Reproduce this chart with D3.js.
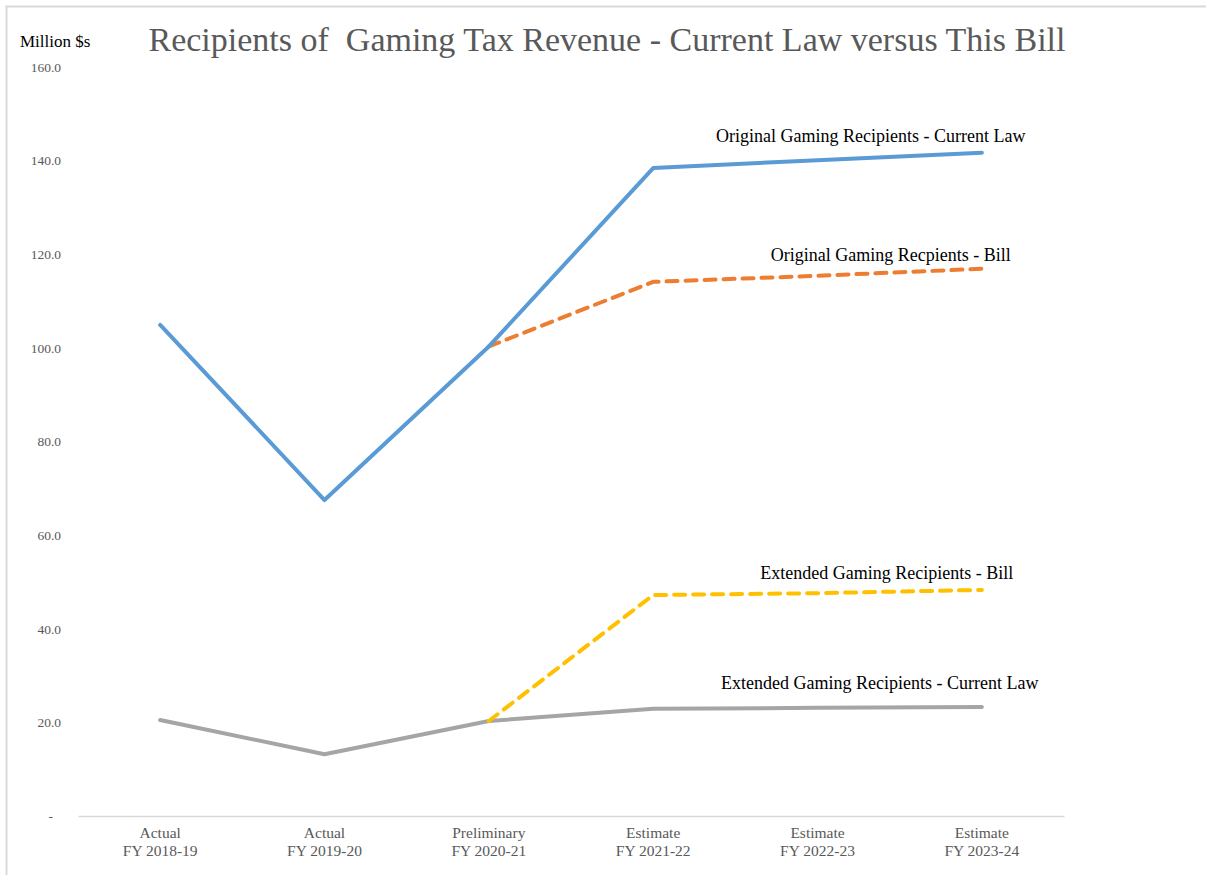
<!DOCTYPE html>
<html>
<head>
<meta charset="utf-8">
<script src="https://cdn.jsdelivr.net/npm/d3@7"></script>
<style>
  body { margin: 0; background: #fff; }
  svg { display: block; font-family: "Liberation Serif", "DejaVu Serif", serif; }
</style>
</head>
<body>
<svg id="chart"></svg>
<script>
// categories (two-line labels)
const catTop = ["Actual", "Actual", "Preliminary", "Estimate", "Estimate", "Estimate"];
const catBottom = ["FY 2018-19", "FY 2019-20", "FY 2020-21", "FY 2021-22", "FY 2022-23", "FY 2023-24"];

// series values, million $ (null = no value)
const originalCurrent = [104.9, 67.5, 100.3, 138.4, 140.1, 141.7];
const originalBill = [null, null, 100.3, 114.1, 115.4, 116.9];
const extendedBill = [null, null, 20.3, 47.2, 47.6, 48.3];
const extendedCurrent = [20.5, 13.2, 20.3, 22.9, 23.1, 23.3];

const yTicks = [0, 20, 40, 60, 80, 100, 120, 140, 160];

const width = 1206, height = 875;
const margins = {"left": 78, "right": 142, "top": 67, "bottom": 59};

const svg = d3.select("#chart")
  .attr("width", width)
  .attr("height", height);

// outer chart border
svg.append("rect")
  .attr("x", 6.5).attr("y", 6.5)
  .attr("width", width + 20).attr("height", height + 20)
  .attr("fill", "none")
  .attr("stroke", "#d9d9d9")
  .attr("stroke-width", 2);

const xScale = d3.scaleBand()
  .domain(d3.range(catTop.length))
  .range([margins.left, width - margins.right]);

const yScale = d3.scaleLinear()
  .domain([0, 160])
  .range([height - margins.bottom, margins.top]);

const xPos = (i) => xScale(i) + xScale.bandwidth() / 2;

// title
svg.append("text")
  .attr("x", 607)
  .attr("y", 51)
  .attr("text-anchor", "middle")
  .attr("fill", "#595959")
  .attr("xml:space", "preserve")
  .style("font-size", "34px")
  .text("Recipients of  Gaming Tax Revenue - Current Law versus This Bill");

svg.append("text")
  .attr("x", 20)
  .attr("y", 47)
  .attr("fill", "#000")
  .style("font-size", "17px")
  .text("Million $s");

// y axis labels
const yAxis = d3.axisLeft(yScale)
  .tickValues(yTicks)
  .tickSize(0)
  .tickPadding(0)
  .tickFormat((d) => d === 0 ? "-" : d3.format(".1f")(d));

const gy = svg.append("g")
  .attr("transform", "translate(" + 61 + ",0)")
  .call(yAxis);
gy.select(".domain").remove();
gy.selectAll("text")
  .attr("fill", "#595959")
  .style("font-size", "13.5px")
  .style("font-family", "Liberation Serif, serif");
gy.selectAll(".tick").filter((d) => d === 0).select("text").attr("dx", -8);

// x axis
const xAxis = d3.axisBottom(xScale).tickSize(0).tickFormat("");
const gx = svg.append("g")
  .attr("transform", "translate(0," + yScale(0) + ")")
  .call(xAxis);
gx.select(".domain").attr("stroke", "#d9d9d9").attr("stroke-width", 1.5);

const catLabels = svg.append("g").selectAll("text")
  .data(catTop)
  .enter()
  .append("text")
  .attr("x", (d, i) => xPos(i))
  .attr("y", yScale(0) + 22)
  .attr("text-anchor", "middle")
  .attr("fill", "#595959")
  .style("font-size", "15.5px");
catLabels.append("tspan").text((d) => d);
catLabels.append("tspan")
  .attr("x", (d, i) => xPos(i))
  .attr("dy", 18)
  .text((d, i) => catBottom[i]);

// lines
const line = d3.line()
  .defined((d) => d !== null)
  .x((d, i) => xPos(i))
  .y((d) => yScale(d));

const series = [
  {values: extendedCurrent, color: "#A5A5A5", dash: null},
  {values: extendedBill, color: "#FFC000", dash: "11,8"},
  {values: originalBill, color: "#ED7D31", dash: "11,8"},
  {values: originalCurrent, color: "#5B9BD5", dash: null}
];

svg.append("g").selectAll("path")
  .data(series)
  .enter()
  .append("path")
  .attr("d", (d) => line(d.values))
  .attr("fill", "none")
  .attr("stroke", (d) => d.color)
  .attr("stroke-width", 4)
  .attr("stroke-linecap", "round")
  .attr("stroke-linejoin", "round")
  .attr("stroke-dasharray", (d) => d.dash);

// series labels next to the last point
const last = catTop.length - 1;
const labels = [
  {text: "Original Gaming Recipients - Current Law", value: originalCurrent[last], dx: -111, dy: -11},
  {text: "Original Gaming Recpients - Bill", value: originalBill[last], dx: -91, dy: -8},
  {text: "Extended Gaming Recipients - Bill", value: extendedBill[last], dx: -95, dy: -11},
  {text: "Extended Gaming Recipients - Current Law", value: extendedCurrent[last], dx: -102, dy: -18}
];

svg.append("g").selectAll("text")
  .data(labels)
  .enter()
  .append("text")
  .attr("x", (d) => xPos(last) + d.dx)
  .attr("y", (d) => yScale(d.value) + d.dy)
  .attr("text-anchor", "middle")
  .attr("fill", "#000")
  .style("font-size", "18px")
  .text((d) => d.text);
</script>
</body>
</html>
